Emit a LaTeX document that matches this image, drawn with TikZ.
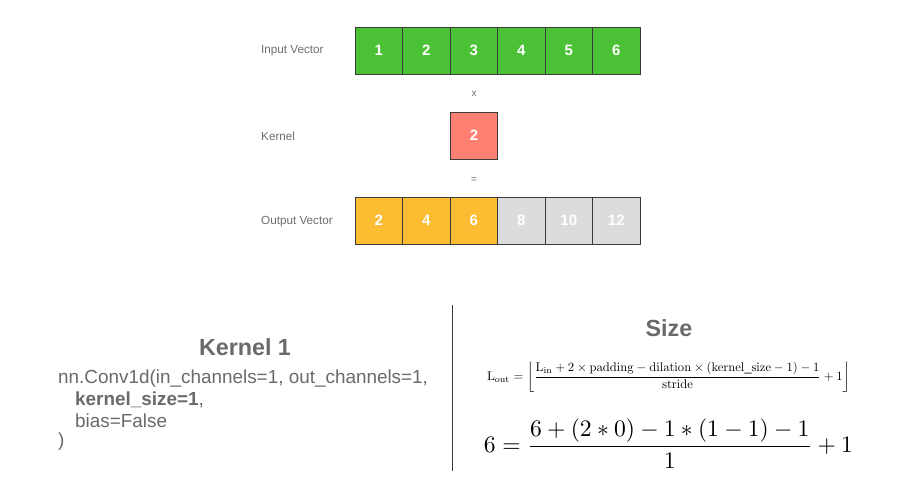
\documentclass[tikz,border=0pt]{standalone}
\usepackage{amsmath}
\usepackage[no-math]{fontspec}
\setmainfont{Liberation Sans}
\usepackage{graphicx}
\definecolor{ingreen}{HTML}{4BC135}
\definecolor{kred}{HTML}{FF8070}
\definecolor{outorange}{HTML}{FDBD33}
\definecolor{outgray}{HTML}{DCDCDC}
\definecolor{labgray}{HTML}{6E6E6E}
\definecolor{codegray}{HTML}{6A6A6A}
\definecolor{edgegray}{HTML}{3A3A3A}
\tikzset{
  cell/.style={draw=edgegray, line width=0.9pt, minimum width=47.5pt, minimum height=47pt, inner sep=0pt, outer sep=0pt, text=white, font=\fontsize{15}{17}\selectfont\bfseries},
  rowlab/.style={anchor=west, text=labgray, font=\fontsize{11.7}{13}\selectfont, inner sep=0pt},
  opsym/.style={text=labgray, font=\fontsize{10}{12}\selectfont, inner sep=0pt},
  codeline/.style={anchor=west, text=codegray, font=\fontsize{18.9}{22}\selectfont, inner sep=0pt},
  heading/.style={text=codegray, font=\fontsize{23.3}{26}\selectfont\bfseries, inner sep=0pt}
}
\begin{document}
\begin{tikzpicture}[x=1pt,y=-1pt]
\useasboundingbox[fill=white] (0,0) rectangle (900,477);
% labels
\node[rowlab] (linput) at (261,51) {Input Vector};
\node[rowlab] (lkernel) at (261,136) {Kernel};
\node[rowlab] (loutput) at (261,222) {Output Vector};
% input vector
\foreach \v [count=\i from 0] in {1,2,3,4,5,6}{
  \node[cell, fill=ingreen] (in\v) at ({355+47.5*(\i+0.5)},50.5) {\v};
}
\node[opsym] (times) at (474,94) {x};
\node[cell, fill=kred] (k1) at (474,135.5) {2};
\node[opsym] (eq) at (474,180) {=};
\foreach \v/\c/\t [count=\i from 0] in {2/outorange/white,4/outorange/white,6/outorange/white,8/outgray/white,10/outgray/white,12/outgray/white}{
  \node[cell, fill=\c, text=\t] (out\i) at ({355+47.5*(\i+0.5)},220.5) {\v};
}
% divider
\coordinate (dtop) at (452,305);
\coordinate (dbot) at (452,471);
\draw[line width=0.8pt, color=edgegray] (dtop) -- (dbot);
% left panel
\node[heading] (kh) at (245,347) {Kernel 1};
\node[codeline] (c1) at (58,379) {nn.Conv1d(in\_channels=1, out\_channels=1,};
\node[codeline] (c2) at (58,400) {\hspace{17pt}\textbf{kernel\_size=1},};
\node[codeline] (c3) at (58,421) {\hspace{17pt}bias=False};
\node[codeline] (c4) at (58,442) {)};
% right panel
\node[heading] (sh) at (669,328) {Size};
\node[inner sep=0pt] (f1) at (668.5,377) {\resizebox{363pt}{!}{$\mathrm{L_{out}}=\left\lfloor\dfrac{\mathrm{L_{in}}+2\times\mathrm{padding}-\mathrm{dilation}\times(\mathrm{kernel\_size}-1)-1}{\mathrm{stride}}+1\right\rfloor$}};
\node[inner sep=0pt] (f2) at (668.5,444) {\resizebox{369pt}{!}{$6=\dfrac{6+(2*0)-1*(1-1)-1}{1}+1$}};
\end{tikzpicture}
\end{document}
